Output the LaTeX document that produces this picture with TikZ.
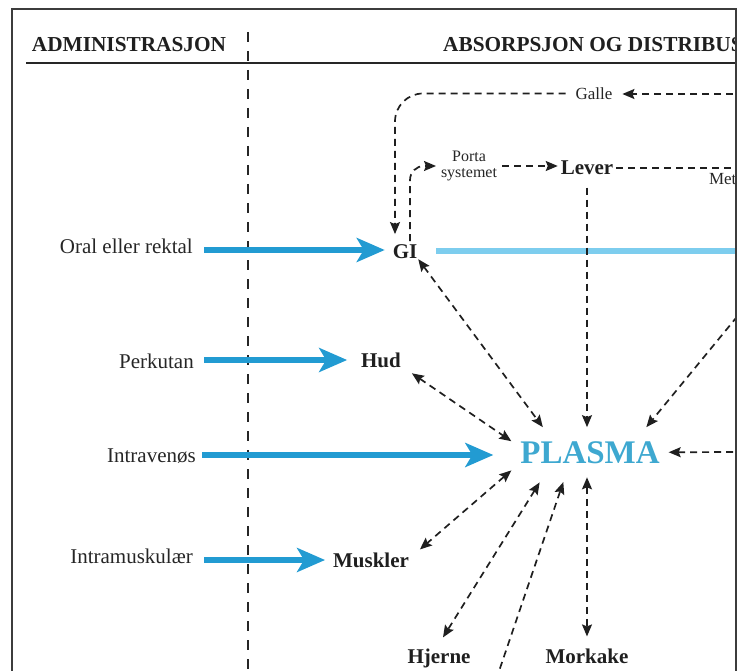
\documentclass[tikz,border=0pt]{standalone}
\usepackage{fontspec}
\setmainfont{Liberation Serif}
\usetikzlibrary{arrows.meta,calc}

\definecolor{dosedblue}{RGB}{34,155,210}
\definecolor{plasmablue}{RGB}{62,168,208}
\definecolor{giblue}{RGB}{125,205,238}
\definecolor{framegray}{RGB}{60,60,60}

\tikzset{
  organ/.style={font=\fontsize{21}{24}\selectfont\bfseries, inner sep=3pt, outer sep=0pt, text=black!88, anchor=base},
  routelbl/.style={font=\fontsize{21}{24}\selectfont, anchor=base east, inner sep=0pt, text=black!85},
  minorlbl/.style={font=\fontsize{17}{12}\selectfont, inner ysep=3pt, inner xsep=5pt, outer sep=0pt, text=black!85},
  headlbl/.style={font=\fontsize{21.3}{24}\selectfont\bfseries, inner sep=0pt, text=black!88},
  flow/.style={draw=black!88, line width=1.7pt, dash pattern=on 7pt off 5pt},
  tipS/.tip={Stealth[length=12pt,width=10pt,inset=2pt]},
  dosearrow/.style={draw=dosedblue, line width=5.5pt,
    -{Stealth[length=28pt,width=24pt,inset=7pt]}},
}

\begin{document}
\begin{tikzpicture}[x=1pt,y=-1pt]
\useasboundingbox (0,0) rectangle (741,671);

\begin{scope}
\clip (12,9) rectangle (736,671);

% column headings
\node[headlbl, anchor=base] (hadm) at (129,52) {ADMINISTRASJON};
\node[headlbl, anchor=base west] (habs) at (443,52) {ABSORPSJON OG DISTRIBUS};
\draw[line width=1.6pt, draw=black!85] (26,63) -- (741,63);

% column divider
\draw[line width=2pt, draw=black!85, dash pattern=on 10pt off 9pt] (248,32) -- (248,680);

% routes of administration
\node[routelbl] (oral) at (193,253) {Oral eller rektal};
\node[routelbl] (perk) at (194,368) {Perkutan};
\node[routelbl] (iv) at (196,462) {Intravenøs};
\node[routelbl] (im) at (193,563) {Intramuskulær};

% compartments
\node[organ] (gi) at (405,258) {GI};
\node[organ] (hud) at (381,367) {Hud};
\node[organ] (musk) at (371,567) {Muskler};
\node[organ] (hjerne) at (439,663) {Hjerne};
\node[organ] (morkake) at (587,663) {Morkake};
\node[organ] (lever) at (587,174.5) {Lever};
\node[organ, font=\fontsize{33}{36}\selectfont\bfseries, text=plasmablue,
      inner ysep=14pt, inner xsep=9pt] (plasma) at (590,463) {PLASMA};

\node[minorlbl, inner xsep=10pt] (galle) at (594,93.5) {Galle};
\node[minorlbl, align=center, font=\fontsize{16}{15.5}\selectfont] (porta) at (469,166) {Porta\\systemet};
\node[minorlbl, anchor=base west, inner sep=0pt] (meta) at (709,185) {Meta};

% loose ends at the edges of the frame
\coordinate (galleR) at (745,94);
\coordinate (leverR) at (745,0);
\coordinate (giR) at (745,0);
\coordinate (diagR) at (745,307);
\coordinate (plasmaR) at (745,452);
\coordinate (bottomL) at (496,680);

% dosing arrows
\coordinate (oralS) at ([shift={(11pt,3pt)}]oral.base east);
\coordinate (perkS) at ([shift={(10pt,8pt)}]perk.base east);
\coordinate (ivS) at ([shift={(6pt,7pt)}]iv.base east);
\coordinate (imS) at ([shift={(11pt,3pt)}]im.base east);
\draw[dosearrow, shorten >=5pt] (oralS) -- (oralS -| gi.west);
\draw[dosearrow, shorten >=11pt] (perkS) -- (perkS -| hud.west);
\draw[dosearrow, shorten >=18pt] (ivS) -- (ivS -| plasma.west);
\draw[dosearrow, shorten >=5pt] (imS) -- (imS -| musk.west);

% absorption from the gut
\draw[draw=giblue, line width=6.5pt, shorten <=16pt] (gi.east) -- (gi.east -| giR);

% bile and portal circulation
\draw[flow, -tipS] (galleR) -- (galleR -| galle.east);
\draw[flow, -tipS, rounded corners=28pt] (galle.west) -| ([shift={(-10pt,7pt)}]gi.north);
\draw[flow, -tipS, rounded corners=14pt] ([xshift=5pt]gi.north) |- (porta.west);
\draw[flow, -tipS] (porta.east) -- (porta.east -| lever.west);
\draw[flow] (lever.east) -- (lever.east -| leverR);
\draw[flow, -tipS, shorten <=10pt] (lever.south) -- (lever.south |- plasma.north);

% exchange with plasma
\draw[flow, tipS-tipS] ([shift={(-2pt,2pt)}]gi.south east) -- (plasma.152);
\draw[flow, tipS-tipS] ([shift={(8pt,-3pt)}]hud.south east) -- (plasma.172);
\draw[flow, -tipS] (diagR) -- (plasma.24);
\draw[flow, -tipS] (plasmaR) -- (plasma.east);
\draw[flow, tipS-tipS] (plasma.193) -- ([xshift=8pt]musk.north east);
\draw[flow, tipS-tipS, shorten <=6pt] (plasma.208.5) -- ([shift={(4pt,8pt)}]hjerne.north);
\draw[flow, -tipS, shorten >=5pt] (bottomL) -- (plasma.225);
\draw[flow, tipS-tipS] (plasma.south -| morkake.north) -- ([yshift=9pt]morkake.north);
\end{scope}

% frame
\draw[draw=framegray, line width=2pt] (12,680) -- (12,9) -- (736,9) -- (736,680);
\end{tikzpicture}
\end{document}
